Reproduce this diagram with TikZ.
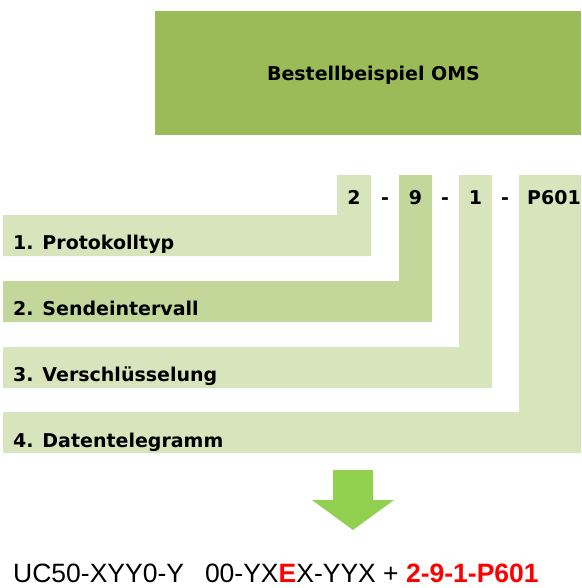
\documentclass[tikz,border=0pt]{standalone}
\usepackage{fontspec}
\newfontfamily\tah{DejaVu Sans}
\newfontfamily\arialf{Liberation Sans}
\definecolor{titlegreen}{HTML}{9BBB59}
\definecolor{lightgreen}{HTML}{D8E4BC}
\definecolor{midgreen}{HTML}{C4D79B}
\definecolor{arrowgreen}{HTML}{92D050}
\definecolor{redtxt}{HTML}{FF0000}
\tikzset{
  lbl/.style={anchor=base west,inner sep=0pt,font=\tah\bfseries\fontsize{19}{22}\selectfont},
  digit/.style={anchor=base,inner sep=0pt,font=\tah\bfseries\fontsize{19}{22}\selectfont},
}
\begin{document}
\begin{tikzpicture}[x=1pt,y=-1pt]
\useasboundingbox (0,0) rectangle (581,588);
\begin{scope}
\clip (0,0) rectangle (581,588);
% title
\fill[titlegreen] (155,11) rectangle (581,135);
\node[digit] (title) at (373.5,81) {Bestellbeispiel OMS};
% L-shaped bars
\fill[lightgreen] (337,175) -- (371,175) -- (371,256) -- (3,256) -- (3,215) -- (337,215) -- cycle;
\fill[midgreen] (399,175) -- (432,175) -- (432,322) -- (3,322) -- (3,281) -- (399,281) -- cycle;
\fill[lightgreen] (459,175) -- (492,175) -- (492,388) -- (3,388) -- (3,347) -- (459,347) -- cycle;
\fill[lightgreen] (519,175) -- (581,175) -- (581,453) -- (3,453) -- (3,412) -- (519,412) -- cycle;
% digits
\node[digit] (d1) at (354,204) {2};
\node[digit] (s1) at (385,204) {-};
\node[digit] (d2) at (415.5,204) {9};
\node[digit] (s2) at (445,204) {-};
\node[digit] (d3) at (475.5,204) {1};
\node[digit] (s3) at (505,204) {-};
\node[lbl] (d4) at (527,204) {P601};
% labels
\node[lbl] (l1) at (13,249) {1. Protokolltyp};
\node[lbl] (l2) at (13,315.5) {2. Sendeintervall};
\node[lbl] (l3) at (13,381.5) {3. Verschlüsselung};
\node[lbl] (l4) at (13,447) {4. Datentelegramm};
% arrow
\fill[arrowgreen] (333,470) -- (373,470) -- (373,500) -- (394,500) -- (353,530) -- (312,500) -- (333,500) -- cycle;
% bottom text
\node[anchor=base west,inner sep=0pt,font=\arialf\fontsize{26.5}{30}\selectfont] (code) at (13,582)
  {UC50-XYY0-Y\hspace{21pt}00-YX{\color{redtxt}\bfseries E}X-YYX + {\color{redtxt}\bfseries 2-9-1-P601}};
\end{scope}
\end{tikzpicture}
\end{document}
